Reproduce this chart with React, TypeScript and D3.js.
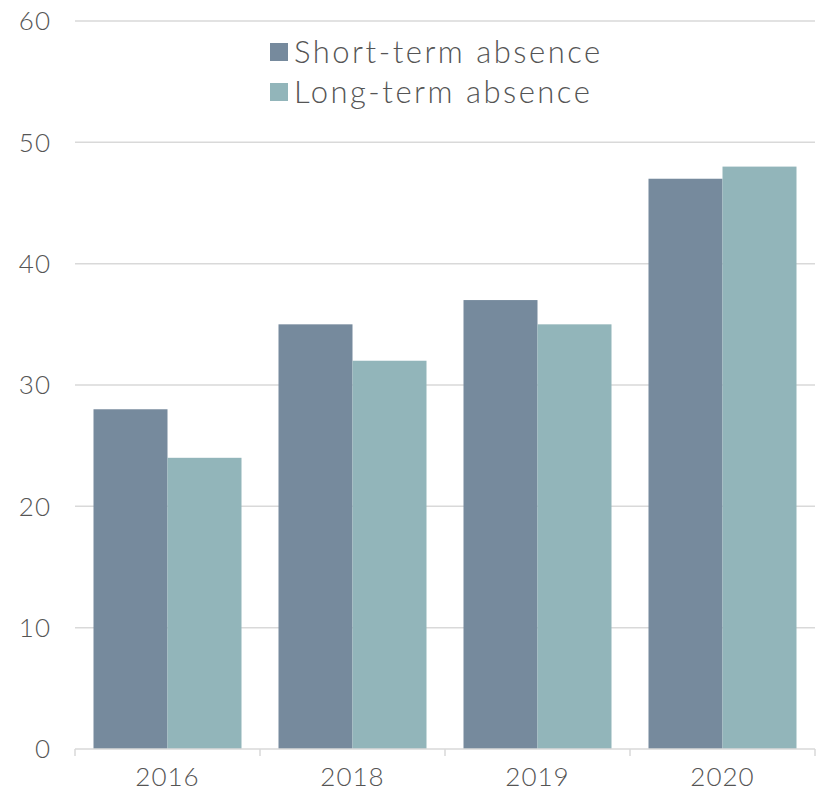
import React from 'react'
import * as d3 from 'd3'

const years = ['2016', '2018', '2019', '2020']
const shortTerm = [28, 35, 37, 47]
const longTerm = [24, 32, 35, 48]
const seriesNames = ['Short-term absence', 'Long-term absence']
const yTicks = [0, 10, 20, 30, 40, 50, 60]

const colors = ['#768a9d', '#92b5ba']
const font = 'Lato, "Open Sans", sans-serif'

export default function App() {
    const width = 817
    const height = 792
    const left = 75
    const right = 815
    const top = 21
    const bottom = 749

    const x = d3.scaleBand().domain(years).range([left, right]).padding(0)
    const sub = d3.scaleBand().domain(['0', '1']).range([0, x.bandwidth()]).paddingInner(0).paddingOuter(0.25)
    const y = d3.scaleLinear().domain([0, 60]).range([bottom, top])

    const series = [shortTerm, longTerm]

    return (
        <svg width={width} height={height} style={{ position: 'absolute', left: 0, top: 0 }}>
            {yTicks.map(t => (
                <g key={t}>
                    {t > 0 && <line x1={left} x2={right} y1={y(t)} y2={y(t)} stroke="#d9d9d9" strokeWidth={1.5} />}
                    <text x={51} y={y(t)} dy="0.36em" textAnchor="end" fontFamily={font} fontWeight={300}
                        fontSize={26} letterSpacing={1} fill="#555">{t}</text>
                </g>
            ))}
            {years.map((yr, i) => (
                <g key={yr}>
                    {series.map((s, j) => (
                        <rect key={j} x={x(yr)! + sub(String(j))!} y={y(s[i])} width={sub.bandwidth()}
                            height={bottom - y(s[i])} fill={colors[j]} />
                    ))}
                    <text x={x(yr)! + x.bandwidth() / 2} y={786} textAnchor="middle" fontFamily={font} fontWeight={300}
                        fontSize={26} letterSpacing={1} fill="#555">{yr}</text>
                </g>
            ))}
            <line x1={left} x2={right} y1={bottom} y2={bottom} stroke="#d9d9d9" strokeWidth={1.5} />
            {[...years.map(yr => x(yr)!), right].map((tx, i) => (
                <line key={i} x1={tx} x2={tx} y1={bottom} y2={bottom + 7} stroke="#d9d9d9" strokeWidth={1.5} />
            ))}
            {seriesNames.map((name, j) => (
                <g key={name} transform={`translate(270, ${43 + j * 40})`}>
                    <rect x={0} y={0} width={18} height={18} fill={colors[j]} />
                    <text x={24} y={9} dy="0.36em" fontFamily={font} fontWeight={300} fontSize={31}
                        letterSpacing={2.5} fill="#555">{name}</text>
                </g>
            ))}
        </svg>
    )
}
